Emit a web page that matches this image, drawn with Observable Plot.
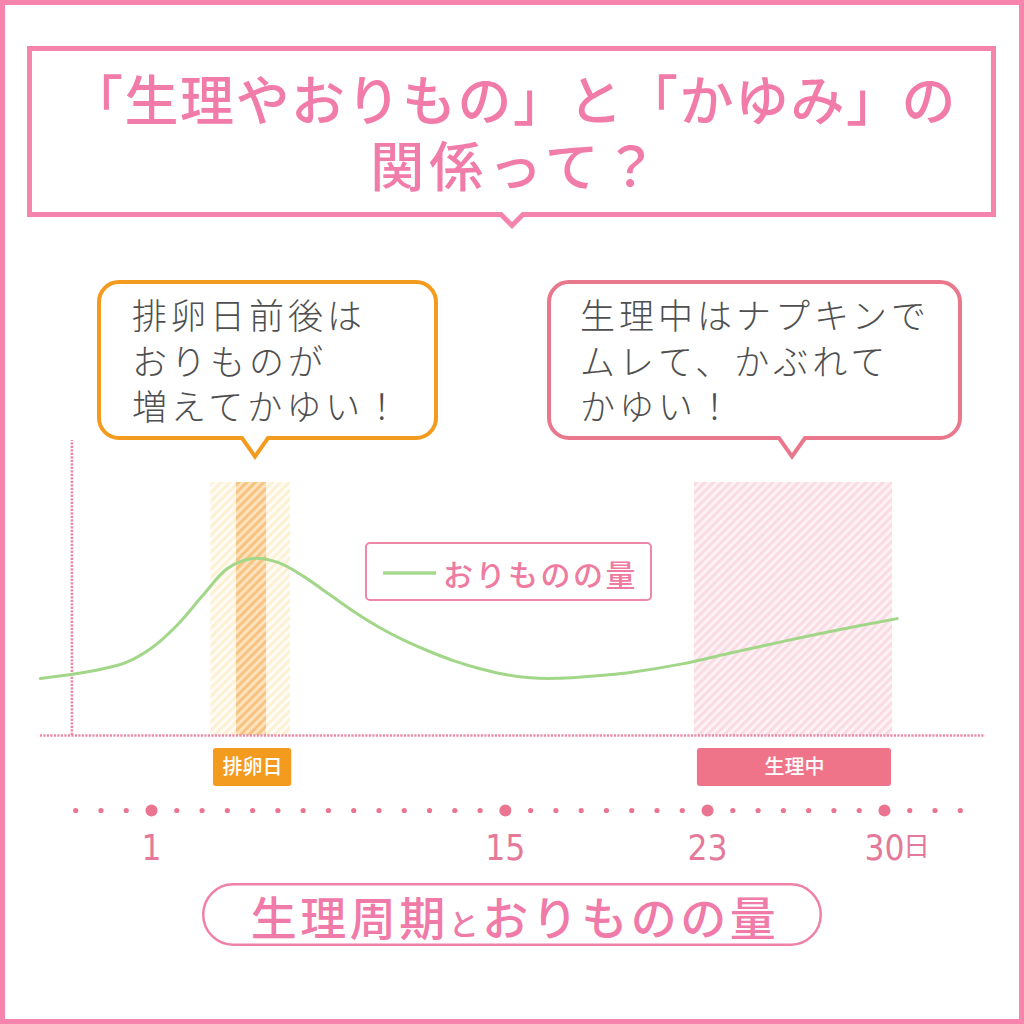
<!DOCTYPE html>
<html lang="ja"><head><meta charset="utf-8">
<script src="https://cdn.jsdelivr.net/npm/d3@7"></script>
<script src="https://cdn.jsdelivr.net/npm/@observablehq/plot@0.6"></script>
<style>
html,body{margin:0;padding:0;background:#fff;}
#page{position:relative;width:1024px;height:1024px;overflow:hidden;background:#fff;font-family:"Noto Sans CJK JP","Noto Sans",sans-serif;}
.abs{position:absolute;left:0;top:0;}
.t{position:absolute;white-space:nowrap;}
#title1,#title2{left:27px;width:969px;text-align:center;color:#f27ca9;font-weight:500;font-size:54px;height:60px;line-height:60px;}
#title1{top:68px;letter-spacing:1.5px;padding-left:1.5px;}
#title2{top:134px;letter-spacing:5px;padding-left:5px;}
.bl{position:absolute;white-space:nowrap;font-size:35px;height:40px;line-height:40px;letter-spacing:4px;color:#4f4f4f;font-weight:300;}
#legendText{left:443px;top:553px;height:40px;line-height:40px;font-size:30px;letter-spacing:2.5px;color:#ee7ba0;font-weight:500;}
#pillText{left:202px;width:620px;top:886px;height:58px;line-height:58px;text-align:center;color:#f07aa8;font-size:46px;font-weight:500;letter-spacing:3.5px;padding-left:3px;}
#pillText .small{font-size:30px;}
#chartA{position:absolute;left:0;top:430px;}
#chartB{position:absolute;left:0;top:740px;}
</style></head><body>
<div id="page">
<svg class="abs" width="1024" height="1024">
  <rect x="2.5" y="2.5" width="1019" height="1019" fill="none" stroke="#f784ad" stroke-width="5"/>
  <path d="M29.5,48.5 H993.5 V214.5 H523 L512,225.5 L501,214.5 H29.5 Z" fill="#fff" stroke="#f584ad" stroke-width="5"/>
  <path d="M119,282 H416 A20,20 0 0 1 436,302 V418 A20,20 0 0 1 416,438 H268 L255,456.5 L242,438 H119 A20,20 0 0 1 99,418 V302 A20,20 0 0 1 119,282 Z" fill="#fff" stroke="#f39b1f" stroke-width="4"/>
  <path d="M569,282 H940 A20,20 0 0 1 960,302 V418 A20,20 0 0 1 940,438 H805 L792,456.5 L779,438 H569 A20,20 0 0 1 549,418 V302 A20,20 0 0 1 569,282 Z" fill="#fff" stroke="#e9788d" stroke-width="4"/>
  <rect x="366" y="543" width="285" height="57" rx="4" fill="#fff" stroke="#ec88a5" stroke-width="2"/>
  <line x1="383" x2="436" y1="573" y2="573" stroke="#a7d98c" stroke-width="3.5"/>
  <rect x="203.25" y="884.25" width="617.5" height="60.5" rx="30" fill="#fff" stroke="#ef80a8" stroke-width="2.5"/>
</svg>
<div class="t" id="title1">「生理やおりもの」と「かゆみ」の</div>
<div class="t" id="title2">関係って？</div>
<div class="bl" style="left:132px;top:294px;">排卵日前後は</div>
<div class="bl" style="left:132px;top:339.5px;">おりものが</div>
<div class="bl" style="left:132px;top:385px;">増えてかゆい！</div>
<div class="bl" style="left:580px;top:294px;">生理中はナプキンで</div>
<div class="bl" style="left:580px;top:339.5px;">ムレて、かぶれて</div>
<div class="bl" style="left:580px;top:385px;">かゆい！</div>
<div class="t" id="legendText">おりものの量</div>
<div class="t" id="pillText">生理周期<span class="small">と</span>おりものの量</div>
<div id="chartA"></div>
<div id="chartB"></div>
</div>
<script>
// ---- data ----
const flowDay    = [-3.4, -2, -1, 0, 1, 2, 3, 4, 5, 6, 7, 8, 9, 10, 11, 12, 13, 14, 15, 16, 17, 18, 19, 20, 22, 24, 26, 28, 30.5];
const flowAmount = [22.5, 24.4, 26.2, 28.9, 34.6, 43.5, 55.0, 66.0, 70.0, 68.4, 63.0, 56.0, 49.0, 42.8, 37.6, 33.2, 29.4, 26.4, 24.1, 22.8, 22.6, 23.1, 23.9, 25.0, 28.3, 32.8, 37.2, 41.4, 46.2];

const bandName    = ["排卵日前後", "排卵日", "生理中"];
const bandStart   = [3.35, 4.36, 22.48];
const bandEnd     = [6.5, 5.55, 30.32];
const bandPattern = ["hatchOuter", "hatchInner", "hatchPeriod"];

const labelName  = ["排卵日", "生理中"];
const labelStart = [3.45, 22.6];
const labelEnd   = [6.55, 30.28];
const labelColor = ["#f39b1f", "#ef7489"];

const cycleDays  = [-2, -1, 0, 1, 2, 3, 4, 5, 6, 7, 8, 9, 10, 11, 12, 13, 14, 15, 16, 17, 18, 19, 20, 21, 22, 23, 24, 25, 26, 27, 28, 29, 30, 31, 32, 33];
const majorDays  = [1, 15, 23, 30];
const tickLabels = ["1", "15", "23", "30"];
const tickUnit   = "日";

const yAxisDay = -2.15, yAxisTop = 116.6;
const baseStart = -3.4, baseEnd = 34.0;

// ---- tables ----
const flow = flowDay.map((d, i) => ({day: d, amount: flowAmount[i]}));
const bands = bandName.map((n, i) => ({name: n, start: bandStart[i], end: bandEnd[i], pattern: bandPattern[i]}));
const labels = labelName.map((n, i) => ({name: n, start: labelStart[i], end: labelEnd[i], color: labelColor[i]}));
const ticks = majorDays.map((d, i) => ({day: d, label: tickLabels[i]}));

const xScale = {domain: [-2, 33], range: [75.2, 959.8], axis: null};
const dotted = "#e98aa5";

const chartA = Plot.plot({
  width: 1024, height: 320,
  marginTop: 52, marginBottom: 15, marginLeft: 0, marginRight: 0,
  x: xScale,
  y: {domain: [0, 100], axis: null},
  style: {background: "transparent", overflow: "visible"},
  marks: [
    ...bands.map(b => Plot.rect([b], {x1: "start", x2: "end", y1: 0, y2: 100, fill: `url(#${b.pattern})`})),
    Plot.ruleX([yAxisDay], {y1: 0, y2: yAxisTop, stroke: dotted, strokeWidth: 2.6, strokeDasharray: "2.2 1.3"}),
    Plot.ruleY([0], {x1: baseStart, x2: baseEnd, stroke: dotted, strokeWidth: 2.6, strokeDasharray: "2.2 1.3"}),
    Plot.line(flow, {x: "day", y: "amount", curve: "catmull-rom", stroke: "#a2d688", strokeWidth: 3})
  ]
});

// hatch patterns
(function addPatterns(svg) {
  const NS = "http://www.w3.org/2000/svg";
  const defs = document.createElementNS(NS, "defs");
  const specs = [
    ["hatchOuter", "#fffcf5", "#fdf0d4"],
    ["hatchInner", "#fde2bc", "#f6c382"],
    ["hatchPeriod", "#fef2f5", "#fadbe3"]
  ];
  for (const [id, bg, fg] of specs) {
    const p = document.createElementNS(NS, "pattern");
    p.setAttribute("id", id);
    p.setAttribute("patternUnits", "userSpaceOnUse");
    p.setAttribute("width", "6"); p.setAttribute("height", "6");
    p.setAttribute("patternTransform", "rotate(45)");
    const r1 = document.createElementNS(NS, "rect");
    r1.setAttribute("width", "6"); r1.setAttribute("height", "6"); r1.setAttribute("fill", bg);
    const r2 = document.createElementNS(NS, "rect");
    r2.setAttribute("width", "3"); r2.setAttribute("height", "6"); r2.setAttribute("fill", fg);
    p.appendChild(r1); p.appendChild(r2);
    defs.appendChild(p);
  }
  svg.insertBefore(defs, svg.firstChild);
})(chartA);
document.getElementById("chartA").appendChild(chartA);

const chartB = Plot.plot({
  width: 1024, height: 140,
  marginTop: 8, marginBottom: 94, marginLeft: 0, marginRight: 0,
  x: xScale,
  color: {type: "identity"},
  style: {background: "transparent", overflow: "visible"},
  marks: [
    Plot.rect(labels, {x1: "start", x2: "end", fill: "color", rx: 3}),
    Plot.text(labels, {x: d => (d.start + d.end) / 2, text: "name", fill: "white", fontSize: 20, fontWeight: 500, fontFamily: "Noto Sans CJK JP", lineAnchor: "middle"}),
    Plot.dot(cycleDays.filter(d => !majorDays.includes(d)), {x: d => d, r: 2.6, fill: "#ea7590", frameAnchor: "bottom", dy: 24}),
    Plot.dot(majorDays, {x: d => d, r: 6, fill: "#ea7590", frameAnchor: "bottom", dy: 24}),
    Plot.text(ticks, {x: "day", text: "label", frameAnchor: "bottom", dy: 62, lineAnchor: "middle", fontSize: 35, fontFamily: "Liberation Sans Narrow, DejaVu Sans Condensed, sans-serif", fill: "#e5799a"}),
    Plot.text([majorDays[majorDays.length - 1]], {x: d => d, text: () => tickUnit, frameAnchor: "bottom", dy: 61, dx: 32, lineAnchor: "middle", fontSize: 27, fontFamily: "Noto Sans CJK JP", fill: "#e5799a"})
  ]
});
document.getElementById("chartB").appendChild(chartB);
</script>
</body></html>
